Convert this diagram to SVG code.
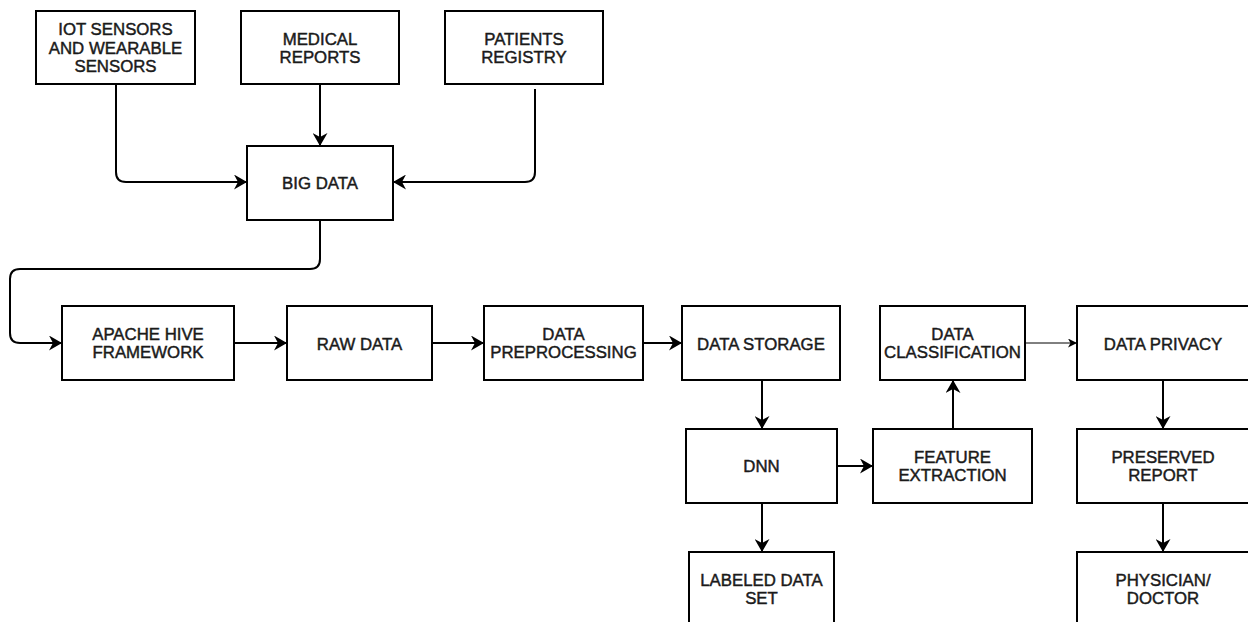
<svg xmlns="http://www.w3.org/2000/svg" width="1248" height="622" viewBox="0 0 1248 622">
<defs>
<style>
.box{fill:#fff;stroke:#000;stroke-width:2}
.t{font-family:"Liberation Sans",Arial,sans-serif;font-size:16.8px;fill:#1a1a1a;text-anchor:middle;stroke:#1a1a1a;stroke-width:0.45}
.c{fill:none;stroke:#000;stroke-width:2}
.thin{fill:none;stroke:#000;stroke-width:1}
</style>
<marker id="ah" viewBox="0 0 13 15" refX="13" refY="7.5" markerWidth="13" markerHeight="15" markerUnits="userSpaceOnUse" orient="auto">
<path d="M0,0 L13,7.5 L0,15 L4,7.5 Z" fill="#000"/>
</marker>
<marker id="ahs" viewBox="0 0 9 9" refX="9" refY="4.5" markerWidth="9" markerHeight="9" markerUnits="userSpaceOnUse" orient="auto">
<path d="M0,0 L9,4.5 L0,9 L2.5,4.5 Z" fill="#000"/>
</marker>
</defs>
<rect width="1248" height="622" fill="#fff"/>
<g id="connectors">
<path class="c" d="M116,84 V172 Q116,182 126,182 H247" marker-end="url(#ah)"/>
<path class="c" d="M320,84 V146" marker-end="url(#ah)"/>
<path class="c" d="M535,89 V172 Q535,182 525,182 H393" marker-end="url(#ah)"/>
<path class="c" d="M320,220 V259 Q320,269 310,269 H20 Q10,269 10,279 V333 Q10,343 20,343 H62" marker-end="url(#ah)"/>
<path class="c" d="M234,343 H287" marker-end="url(#ah)"/>
<path class="c" d="M432,343 H484" marker-end="url(#ah)"/>
<path class="c" d="M643,343 H682" marker-end="url(#ah)"/>
<path class="c" d="M762,380 V429" marker-end="url(#ah)"/>
<path class="c" d="M762,503 V552" marker-end="url(#ah)"/>
<path class="c" d="M837,466 H873" marker-end="url(#ah)"/>
<path class="c" d="M953,429 V380" marker-end="url(#ah)"/>
<path class="thin" d="M1025,343 H1077" marker-end="url(#ahs)"/>
<path class="c" d="M1163,380 V429" marker-end="url(#ah)"/>
<path class="c" d="M1163,503 V552" marker-end="url(#ah)"/>
</g>
<g id="iot"><rect class="box" x="36" y="11" width="159" height="73"/><text class="t" x="115.5" y="35">IOT SENSORS</text><text class="t" x="115.5" y="54">AND WEARABLE</text><text class="t" x="115.5" y="72">SENSORS</text></g>
<g id="medical"><rect class="box" x="241" y="11" width="158" height="73"/><text class="t" x="320" y="45">MEDICAL</text><text class="t" x="320" y="63">REPORTS</text></g>
<g id="patients"><rect class="box" x="445" y="11" width="158" height="73"/><text class="t" x="524" y="45">PATIENTS</text><text class="t" x="524" y="63">REGISTRY</text></g>
<g id="bigdata"><rect class="box" x="247" y="146" width="146" height="74"/><text class="t" x="320" y="189">BIG DATA</text></g>
<g id="apache"><rect class="box" x="62" y="306" width="172" height="74"/><text class="t" x="148" y="340">APACHE HIVE</text><text class="t" x="148" y="358">FRAMEWORK</text></g>
<g id="raw"><rect class="box" x="287" y="306" width="145" height="74"/><text class="t" x="359.5" y="349.5">RAW DATA</text></g>
<g id="prep"><rect class="box" x="484" y="306" width="159" height="74"/><text class="t" x="563.5" y="340">DATA</text><text class="t" x="563.5" y="358">PREPROCESSING</text></g>
<g id="storage"><rect class="box" x="682" y="306" width="158" height="74"/><text class="t" x="761" y="349.5">DATA STORAGE</text></g>
<g id="classification"><rect class="box" x="880" y="306" width="145" height="74"/><text class="t" x="952.5" y="340">DATA</text><text class="t" x="952.5" y="358">CLASSIFICATION</text></g>
<g id="privacy"><rect class="box" x="1077" y="306" width="175" height="74"/><text class="t" x="1163" y="349.5">DATA PRIVACY</text></g>
<g id="dnn"><rect class="box" x="686" y="429" width="151" height="74"/><text class="t" x="761.5" y="472">DNN</text></g>
<g id="feature"><rect class="box" x="873" y="429" width="159" height="74"/><text class="t" x="952.5" y="463">FEATURE</text><text class="t" x="952.5" y="481">EXTRACTION</text></g>
<g id="labeled"><rect class="box" x="689" y="552" width="145" height="80"/><text class="t" x="761.5" y="586">LABELED DATA</text><text class="t" x="761.5" y="604">SET</text></g>
<g id="preserved"><rect class="box" x="1077" y="429" width="175" height="74"/><text class="t" x="1163" y="463">PRESERVED</text><text class="t" x="1163" y="481">REPORT</text></g>
<g id="physician"><rect class="box" x="1077" y="552" width="175" height="80"/><text class="t" x="1163" y="586">PHYSICIAN/</text><text class="t" x="1163" y="604">DOCTOR</text></g>
</svg>
